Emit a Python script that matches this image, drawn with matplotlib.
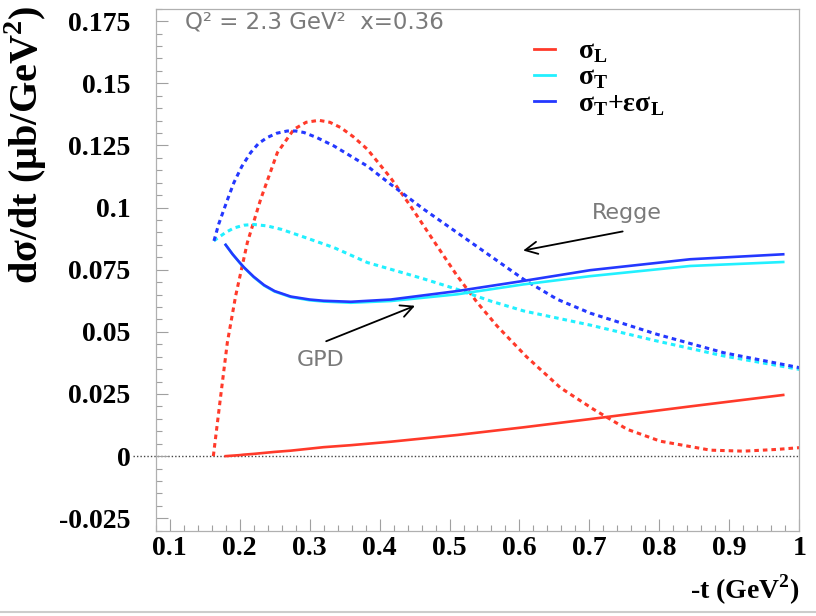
import matplotlib
matplotlib.use("Agg")
import matplotlib.pyplot as plt
from matplotlib.lines import Line2D

# ---------------- data ----------------
# Regge model
t_regge_L = [0.1624, 0.1729, 0.1824, 0.1943, 0.211, 0.23, 0.2539, 0.2776, 0.2950, 0.3133,
             0.3290, 0.3443, 0.3624, 0.3824, 0.4157, 0.4443, 0.4776, 0.511, 0.5396, 0.5681,
             0.61, 0.6586, 0.7061, 0.7539, 0.8014, 0.873, 0.9204, 0.968, 1.0]
sL_regge = [0.0, 0.0242, 0.0457, 0.0645, 0.0859, 0.1033, 0.1221, 0.1315, 0.1343, 0.1351,
            0.1343, 0.1322, 0.1285, 0.1235, 0.1120, 0.1006, 0.0865, 0.0725, 0.0618, 0.0523,
            0.0400, 0.0275, 0.0188, 0.0108, 0.0060, 0.0024, 0.0020, 0.0027, 0.0034]

t_regge_T = [0.163, 0.18, 0.192, 0.2061, 0.22, 0.2396, 0.26, 0.2871, 0.3347, 0.3824,
             0.4157, 0.4633, 0.511, 0.5586, 0.6061, 0.7014, 0.7967, 0.8919, 1.0]
sT_regge = [0.0866, 0.0900, 0.0918, 0.0929, 0.0932, 0.0926, 0.0912, 0.0886, 0.0839, 0.0779,
            0.0752, 0.0713, 0.0671, 0.0624, 0.0584, 0.0527, 0.0463, 0.0403, 0.0349]

t_regge_tot = [0.1633, 0.1700, 0.1776, 0.1850, 0.1919, 0.2030, 0.2157, 0.2270, 0.2396,
               0.2530, 0.2681, 0.2800, 0.2919, 0.3100, 0.3347, 0.3824, 0.4157, 0.4633,
               0.511, 0.5586, 0.6061, 0.6539, 0.7014, 0.7967, 0.8919, 1.0]
tot_regge = [0.0866, 0.0933, 0.0993, 0.1050, 0.1101, 0.1165, 0.1221, 0.1258, 0.1282,
             0.1299, 0.1308, 0.1308, 0.1302, 0.1282, 0.1248, 0.1167, 0.1094, 0.0993,
             0.0899, 0.0805, 0.0711, 0.0631, 0.0575, 0.0490, 0.0416, 0.0356]

# GPD model
t_gpd = [0.18, 0.19, 0.2, 0.206, 0.22, 0.235, 0.25, 0.273, 0.3, 0.32, 0.359, 0.416,
         0.511, 0.606, 0.701, 0.844, 0.977]
tot_gpd = [0.0850, 0.0812, 0.0779, 0.0760, 0.0722, 0.0688, 0.0664, 0.0642, 0.0630, 0.0625,
           0.0621, 0.0630, 0.0664, 0.0705, 0.0748, 0.0792, 0.0812]
sT_gpd = [0.0850, 0.0812, 0.0778, 0.0759, 0.0720, 0.0686, 0.0662, 0.0640, 0.0627, 0.0622,
          0.0617, 0.0624, 0.0651, 0.0691, 0.0724, 0.0765, 0.0781]
sL_gpd = [0.0, 0.0002, 0.0004, 0.0006, 0.0009, 0.0013, 0.0017, 0.0022, 0.0030, 0.0036,
          0.0044, 0.0058, 0.0085, 0.0116, 0.0149, 0.0200, 0.0246]

x_ticks = [0.1, 0.2, 0.3, 0.4, 0.5, 0.6, 0.7, 0.8, 0.9, 1.0]
x_tick_labels = ["0.1", "0.2", "0.3", "0.4", "0.5", "0.6", "0.7", "0.8", "0.9", "1"]
y_ticks = [-0.025, 0, 0.025, 0.05, 0.075, 0.1, 0.125, 0.15, 0.175]
y_tick_labels = ["-0.025", "0", "0.025", "0.05", "0.075", "0.1", "0.125", "0.15", "0.175"]

legend_labels = ["σ$_{\\mathregular{L}}$", "σ$_{\\mathregular{T}}$",
                 "σ$_{\\mathregular{T}}$+εσ$_{\\mathregular{L}}$"]

# ---------------- style ----------------
RED = "#ff3a2a"
CYAN = "#22f0ff"
BLUE = "#2438ff"
SERIF = "Liberation Serif"
GREY_TXT = "#7a7a7a"
dash = (0, (1.5, 1.3))

fig = plt.figure(figsize=(8.16, 6.16), dpi=100)
ax = fig.add_axes([155.7 / 816, (616 - 530.7) / 616, 643.6 / 816, 522 / 616])

ax.set_xlim(0.08, 1.0)
ax.set_ylim(-0.03, 0.18)

# zero reference line (extends a bit left of frame as in the reference)
ax.plot([0.048, 1.0], [0, 0], color="#444444", lw=1.0, ls=(0, (1, 1.5)),
        clip_on=False, zorder=1)

# Regge (dashed)
ax.plot(t_regge_L, sL_regge, color=RED, lw=2.2, ls=dash, zorder=2)
ax.plot(t_regge_T, sT_regge, color=CYAN, lw=2.2, ls=dash, zorder=2)
ax.plot(t_regge_tot, tot_regge, color=BLUE, lw=2.2, ls=dash, zorder=2)

# GPD (solid)
ax.plot(t_gpd, sL_gpd, color=RED, lw=1.9, zorder=3)
ax.plot(t_gpd, sT_gpd, color=CYAN, lw=1.9, zorder=3)
ax.plot(t_gpd, tot_gpd, color=BLUE, lw=1.9, zorder=4)

# annotations
ax.annotate("", xy=(0.4543, 0.0609), xytext=(0.32, 0.0458),
            arrowprops=dict(arrowstyle="->", color="black", lw=1.3,
                            mutation_scale=22))
ax.text(0.3157, 0.0385, "GPD", color=GREY_TXT, fontsize=16, ha="center",
        va="center", family="DejaVu Sans")
ax.annotate("", xy=(0.6014, 0.0825), xytext=(0.7514, 0.0906),
            arrowprops=dict(arrowstyle="->", color="black", lw=1.3,
                            mutation_scale=22))
ax.text(0.754, 0.098, "Regge", color=GREY_TXT, fontsize=16, ha="center",
        va="center", family="DejaVu Sans")

ax.text(0.0455, 0.975, "Q² = 2.3 GeV²  x=0.36", transform=ax.transAxes,
        color=GREY_TXT, fontsize=16.5, ha="left", va="center", family="DejaVu Sans")

# legend
handles = [Line2D([], [], color=RED, lw=2.0),
           Line2D([], [], color=CYAN, lw=2.0),
           Line2D([], [], color=BLUE, lw=2.0)]
leg = ax.legend(handles, legend_labels, loc="upper left",
                bbox_to_anchor=(0.588, 0.942), frameon=False,
                prop={"family": SERIF, "weight": "bold", "size": 20},
                handlelength=0.76, handletextpad=0.83, labelspacing=0.0,
                borderpad=0.0, borderaxespad=0.0)

# ticks
ax.set_xticks(x_ticks)
ax.set_xticklabels(x_tick_labels)
ax.set_yticks(y_ticks)
ax.set_yticklabels(y_tick_labels)
ax.set_xticks([v / 100 for v in range(8, 101, 2)], minor=True)
ax.set_yticks([v / 1000 for v in range(-30, 181, 5)], minor=True)
for lab in ax.get_xticklabels() + ax.get_yticklabels():
    lab.set_family(SERIF)
    lab.set_weight("bold")
    lab.set_fontsize(20)
ax.tick_params(axis="both", which="both", direction="in", color="#a0a0a0",
               width=0.8, top=False, right=False)
ax.tick_params(axis="y", which="major", length=8.5, pad=18)
ax.tick_params(axis="y", which="minor", length=4.3)
ax.tick_params(axis="x", which="major", length=8.5, pad=4)
ax.tick_params(axis="x", which="minor", length=4.3)
for s in ax.spines.values():
    s.set_color("#b0b0b0")
    s.set_linewidth(0.9)

# axis labels
ax.set_xlabel("-t (GeV$^{\\mathregular{2}}$)", family=SERIF, weight="bold", fontsize=20)
ax.xaxis.set_label_coords(1.0, -0.113)
ax.xaxis.label.set_ha("right")
ax.xaxis.label.set_va("center")
ax.set_ylabel("dσ/dt (μb/GeV$^{\\mathregular{2}}$)", family=SERIF, weight="bold",
              fontsize=29)
ylab = ax.yaxis.label
ylab.set_rotation_mode("default")
ax.yaxis.set_label_coords(-0.202, 1.007)
ylab.set_ha("center")
ylab.set_va("top")

# bottom grey line of the screenshot
fig.add_artist(Line2D([0, 1], [0.0065, 0.0065], color="#cccccc", lw=1.5,
                      transform=fig.transFigure))

fig.savefig("out.png", dpi=100)
